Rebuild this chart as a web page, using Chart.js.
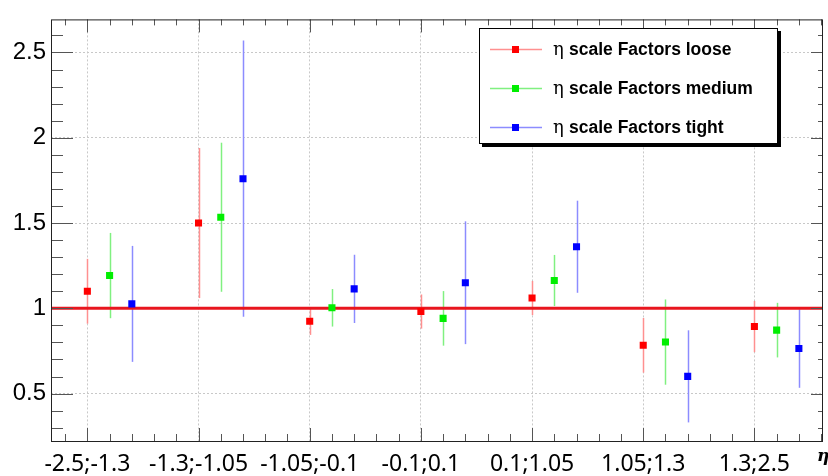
<!DOCTYPE html>
<html>
<head>
<meta charset="utf-8">
<script src="https://cdn.jsdelivr.net/npm/chart.js@4.4.1/dist/chart.umd.min.js"></script>
<style>
  html, body { margin: 0; padding: 0; background: #fff; }
  canvas { display: block; }
</style>
</head>
<body>
<canvas id="chart" width="828" height="476"></canvas>
<script>
// eta bins on the x axis
const categories = ['-2.5;-1.3', '-1.3;-1.05', '-1.05;-0.1', '-0.1;0.1', '0.1;1.05', '1.05;1.3', '1.3;2.5'];

// scale factors, with their (symmetric) errors
const looseSF   = [1.10, 1.50, 0.924, 0.981, 1.060, 0.783, 0.893];
const looseErr  = [0.19, 0.44, 0.08, 0.10, 0.10, 0.16, 0.15];
const mediumSF  = [1.192, 1.534, 1.003, 0.941, 1.163, 0.802, 0.872];
const mediumErr = [0.25, 0.437, 0.11, 0.16, 0.15, 0.25, 0.16];
const tightSF   = [1.026, 1.760, 1.114, 1.150, 1.361, 0.601, 0.764];
const tightErr  = [0.34, 0.81, 0.20, 0.36, 0.27, 0.27, 0.23];

const seriesNames = ['scale Factors loose', 'scale Factors medium', 'scale Factors tight'];
const yTicks = [0.5, 1, 1.5, 2, 2.5];
const refLine = 1;

const X_MIN = -0.327, X_MAX = 6.617, Y_MIN = 0.222, Y_MAX = 2.694;

function points(vals, shift) {
    return vals.map((v, i) => ({ x: i + shift, y: v }));
}

// vertical error bars, drawn under the markers
const errorBars = {
    id: 'errorBars',
    beforeDatasetsDraw(chart) {
        const ctx = chart.ctx, ys = chart.scales.y, xs = chart.scales.x;
        chart.data.datasets.forEach((ds, i) => {
            if (!ds.errors) return;
            ctx.save();
            ctx.strokeStyle = ds.barColor;
            ctx.lineWidth = 1.5;
            ds.data.forEach((p, j) => {
                const e = ds.errors[j];
                const px = Math.round(xs.getPixelForValue(p.x)) + 0.5;
                ctx.beginPath();
                ctx.moveTo(px, ys.getPixelForValue(p.y + e));
                ctx.lineTo(px, ys.getPixelForValue(p.y - e));
                ctx.stroke();
            });
            ctx.restore();
        });
    }
};

// ROOT style frame, ticks on all four sides, legend box
const frame = {
    id: 'frame',
    afterDraw(chart) {
        const ctx = chart.ctx, a = chart.chartArea;
        const xs = chart.scales.x, ys = chart.scales.y;
        ctx.save();
        ctx.strokeStyle = '#555';
        ctx.lineWidth = 1;
        ctx.beginPath();
        // y ticks every 0.1
        for (let k = 3; k <= 26; k++) {
            const v = k / 10;
            const py = Math.round(ys.getPixelForValue(v)) + 0.5;
            const major = k % 5 === 0;
            ctx.moveTo(a.left, py); ctx.lineTo(a.left + (major ? 22 : 12), py);
            ctx.moveTo(a.right, py); ctx.lineTo(a.right - (major ? 12 : 5), py);
        }
        // x ticks every 0.2
        for (let k = -1; k <= 33; k++) {
            const v = k / 5;
            const px = Math.round(xs.getPixelForValue(v)) + 0.5;
            const major = k % 5 === 0;
            ctx.moveTo(px, a.bottom); ctx.lineTo(px, a.bottom - (major ? 13 : 7));
            ctx.moveTo(px, a.top); ctx.lineTo(px, a.top + (major ? 13 : 6));
        }
        ctx.stroke();
        ctx.strokeStyle = '#222';
        ctx.strokeRect(a.left + 0.5, a.top + 0.5, a.right - a.left - 1, a.bottom - a.top);

        // axis title
        ctx.fillStyle = '#000';
        ctx.font = 'italic bold 17px "DejaVu Serif"';
        ctx.fillText('η', 817, 461);

        // legend
        const bx = 479, by = 28, bw = 299, bh = 116;
        ctx.fillStyle = '#000';
        ctx.fillRect(bx + 3, by + 3, bw, bh);
        ctx.fillStyle = '#fff';
        ctx.fillRect(bx, by, bw, bh);
        ctx.strokeStyle = '#000';
        ctx.strokeRect(bx + 0.5, by + 0.5, bw - 1, bh - 1);
        const sets = chart.data.datasets.filter(d => d.errors);
        sets.forEach((ds, i) => {
            const ry = 49 + i * 38.8;
            ctx.strokeStyle = ds.barColor;
            ctx.lineWidth = 1.5;
            ctx.beginPath();
            ctx.moveTo(490, Math.round(ry) + 0.5); ctx.lineTo(542, Math.round(ry) + 0.5);
            ctx.stroke();
            ctx.fillStyle = ds.backgroundColor;
            ctx.fillRect(512, Math.round(ry) - 3, 7, 7);
            ctx.fillStyle = '#000';
            ctx.font = '18px "DejaVu Serif"';
            ctx.fillText('η', 553, ry + 6);
            ctx.font = 'bold 17.5px "Liberation Sans"';
            ctx.fillText(seriesNames[i], 569, ry + 6);
        });
        ctx.restore();
    }
};

const marker = { showLine: false, pointStyle: 'rect', pointRadius: 5, pointHoverRadius: 5, pointBorderWidth: 0 };

new Chart('chart', {
    type: 'scatter',
    data: {
        datasets: [
            Object.assign({ label: seriesNames[0], data: points(looseSF, 0), errors: looseErr,
                backgroundColor: '#ff0000', borderColor: '#ff0000', barColor: '#ff9090' }, marker),
            Object.assign({ label: seriesNames[1], data: points(mediumSF, 0.2), errors: mediumErr,
                backgroundColor: '#00ee00', borderColor: '#00ee00', barColor: '#80f080' }, marker),
            Object.assign({ label: seriesNames[2], data: points(tightSF, 0.4), errors: tightErr,
                backgroundColor: '#0000ff', borderColor: '#0000ff', barColor: '#8c8cff' }, marker),
            {
                type: 'line', label: 'ref',
                data: [{ x: X_MIN, y: refLine }, { x: X_MAX, y: refLine }],
                borderColor: '#e8161e', borderWidth: 3, pointRadius: 0, showLine: true
            }
        ]
    },
    options: {
        responsive: false,
        animation: false,
        layout: { padding: { top: 7, right: 1, left: 0, bottom: 0 } },
        plugins: { legend: { display: false }, tooltip: { enabled: false } },
        scales: {
            x: {
                type: 'linear', min: X_MIN, max: X_MAX,
                afterBuildTicks: s => { s.ticks = categories.map((c, i) => ({ value: i })); },
                afterFit: s => { s.height = 35; },
                grid: { color: '#c8c8c8', drawTicks: false },
                border: { display: false, dash: [2, 2] },
                ticks: {
                    autoSkip: false, maxRotation: 0, padding: 10, color: '#000',
                    font: { family: '"Noto Sans"', size: 23 },
                    callback: v => categories[v]
                }
            },
            y: {
                min: Y_MIN, max: Y_MAX,
                afterBuildTicks: s => { s.ticks = yTicks.map(v => ({ value: v })); },
                afterFit: s => { s.width = 51; },
                grid: { color: '#c8c8c8', drawTicks: false },
                border: { display: false, dash: [2, 2] },
                ticks: {
                    padding: 5, color: '#000',
                    font: { family: '"Liberation Sans"', size: 24 },
                    callback: v => String(v)
                }
            }
        }
    },
    plugins: [errorBars, frame]
});
</script>
</body>
</html>
